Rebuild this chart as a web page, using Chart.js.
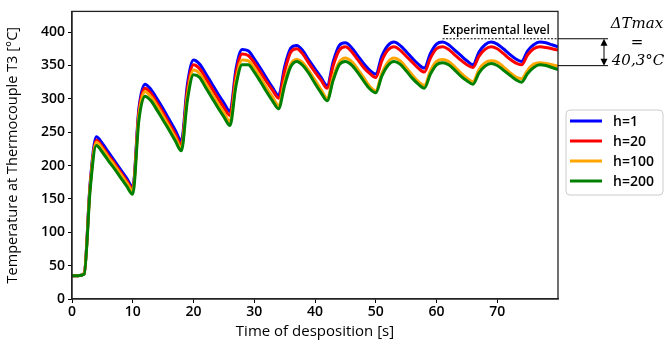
<!DOCTYPE html>
<html lang="en">
<head>
  <meta charset="UTF-8" />
  <title>Temperature at Thermocouple T3</title>
  <script src="https://cdn.jsdelivr.net/npm/chart.js"></script>
  <style>
    body { margin: 0; background: #fff; }
    .wrap { position: relative; width: 664px; height: 344px; }
  </style>
</head>
<body>
  <div class="wrap"><canvas id="tempChart" width="664" height="344"></canvas></div>
  <script>
    // time of deposition [s]
    const times = [0, 1, 2, 3, 4, 5, 6, 7, 8, 9, 10,
      11, 12, 13, 14, 15, 16, 17, 18, 19, 20,
      21, 22, 23, 24, 25, 26, 27, 28, 29, 30,
      31, 32, 33, 34, 35, 36, 37, 38, 39, 40,
      41, 42, 43, 44, 45, 46, 47, 48, 49, 50,
      51, 52, 53, 54, 55, 56, 57, 58, 59, 60,
      61, 62, 63, 64, 65, 66, 67, 68, 69, 70,
      71, 72, 73, 74, 75, 76, 77, 78, 79, 80];

    // temperature at T3 [°C] for each h
    const h1 = [35, 35, 38, 175, 243, 233, 220, 207, 194, 181, 168,
      285, 322, 314, 300, 285, 269, 253, 237, 322, 358,
      352, 338, 323, 308, 294, 281, 345, 374, 372, 360,
      346, 331, 317, 305, 348, 376, 380, 372, 358, 345,
      332, 320, 356, 380, 384, 377, 365, 353, 343, 337,
      364, 380, 385, 380, 371, 361, 352, 346, 368, 382,
      385, 381, 373, 365, 357, 351, 370, 381, 385, 382,
      375, 367, 360, 356, 372, 381, 385, 384, 381, 378];
    const h20 = [35, 35, 38, 172, 238, 228, 215, 203, 190, 177, 165,
      280, 316, 308, 294, 279, 263, 247, 231, 314, 351,
      345, 331, 316, 301, 287, 275, 338, 367, 365, 354,
      340, 326, 313, 301, 341, 370, 375, 367, 353, 340,
      328, 316, 350, 373, 378, 371, 359, 347, 338, 332,
      357, 373, 378, 373, 364, 355, 346, 340, 361, 375,
      378, 374, 366, 358, 351, 347, 364, 374, 378, 375,
      368, 360, 354, 351, 366, 375, 378, 377, 375, 373];
    const h100 = [35, 35, 38, 170, 235, 225, 212, 200, 187, 174, 162,
      274, 311, 303, 289, 274, 258, 242, 226, 305, 343,
      338, 323, 308, 293, 279, 266, 327, 358, 357, 346,
      332, 317, 303, 290, 326, 352, 359, 354, 342, 328,
      314, 301, 333, 355, 361, 356, 345, 332, 319, 312,
      338, 355, 361, 357, 347, 336, 326, 320, 342, 356,
      359, 356, 348, 339, 331, 326, 344, 354, 357, 355,
      348, 340, 333, 330, 343, 352, 354, 353, 351, 349];
    const h200 = [35, 35, 37, 165, 230, 220, 207, 195, 182, 169, 157,
      267, 304, 297, 283, 268, 253, 237, 222, 298, 336,
      332, 317, 302, 287, 273, 260, 320, 351, 351, 340,
      326, 311, 297, 285, 320, 348, 356, 350, 338, 323,
      309, 297, 328, 351, 356, 351, 340, 327, 315, 309,
      334, 350, 356, 352, 342, 331, 322, 316, 337, 351,
      354, 351, 343, 334, 327, 322, 339, 349, 353, 350,
      343, 336, 329, 325, 338, 347, 351, 350, 347, 344];

    const seriesLabels = ['h=1', 'h=20', 'h=100', 'h=200'];
    const seriesColors = ['#0000ff', '#ff0000', '#ffa500', '#008000'];
    const xTicks = [0, 10, 20, 30, 40, 50, 60, 70];
    const yTicks = [0, 50, 100, 150, 200, 250, 300, 350, 400];

    const expLevel = 390;   // experimental level [°C]
    const deltaT = 40.3;    // ΔTmax [°C]
    const expStart = 61;    // dotted line starts here [s]

    const allSeries = [h1, h20, h100, h200];
    const datasets = allSeries.map((vals, i) => ({
      label: seriesLabels[i],
      data: vals.map((v, j) => ({ x: times[j], y: v })),
      borderColor: seriesColors[i],
      backgroundColor: seriesColors[i],
      borderWidth: 3,
      pointRadius: 0,
      cubicInterpolationMode: 'monotone',
      order: allSeries.length - i
    }));

    function arrowHead(ctx, x, y, dir) {
      ctx.beginPath();
      ctx.moveTo(x, y);
      ctx.lineTo(x - 3.5, y - dir * 7);
      ctx.lineTo(x + 3.5, y - dir * 7);
      ctx.closePath();
      ctx.fill();
    }

    const extras = {
      id: 'extras',
      afterDraw(chart) {
        const { ctx, chartArea: a, scales } = chart;
        ctx.save();
        // axes frame
        ctx.strokeStyle = '#222';
        ctx.lineWidth = 1.3;
        ctx.strokeRect(a.left, a.top, a.right - a.left, a.bottom - a.top);

        // experimental level + delta T
        const y1 = scales.y.getPixelForValue(expLevel);
        const y2 = scales.y.getPixelForValue(expLevel - deltaT);
        const xs = scales.x.getPixelForValue(expStart);
        ctx.lineWidth = 1;
        ctx.strokeStyle = '#000';
        ctx.setLineDash([2, 1.5]);
        ctx.beginPath();
        ctx.moveTo(xs, y1); ctx.lineTo(a.right, y1);
        ctx.stroke();
        ctx.setLineDash([]);
        ctx.beginPath();
        ctx.moveTo(a.right, y1); ctx.lineTo(a.right + 50, y1);
        ctx.moveTo(a.right, y2); ctx.lineTo(a.right + 50, y2);
        const ax = a.right + 46;
        ctx.moveTo(ax, y1 + 6); ctx.lineTo(ax, y2 - 6);
        ctx.stroke();
        ctx.fillStyle = '#000';
        arrowHead(ctx, ax, y1, -1);
        arrowHead(ctx, ax, y2, 1);

        ctx.font = '600 12px "Open Sans"';
        ctx.textAlign = 'left';
        ctx.textBaseline = 'alphabetic';
        ctx.fillText('Experimental level', xs, y1 - 5);

        ctx.font = 'italic 15px "DejaVu Serif"';
        ctx.textAlign = 'center';
        ctx.textBaseline = 'middle';
        ctx.fillText('\u0394Tmax', 637, 24);
        ctx.font = '15px "DejaVu Serif"';
        ctx.fillText('=', 637, 43);
        ctx.font = 'italic 15px "DejaVu Serif"';
        ctx.fillText('40,3\u00b0C', 638, 61);

        // legend
        const lx = 566, ly = 110;
        ctx.strokeStyle = '#cccccc';
        ctx.lineWidth = 1;
        ctx.fillStyle = 'rgba(255,255,255,0.9)';
        ctx.beginPath();
        ctx.roundRect(lx, ly, 97, 85, 4);
        ctx.fill();
        ctx.stroke();
        ctx.font = '600 14px "Open Sans"';
        ctx.textAlign = 'left';
        ctx.textBaseline = 'middle';
        seriesLabels.forEach((lab, i) => {
          const yy = ly + 11 + i * 20;
          ctx.strokeStyle = seriesColors[i];
          ctx.lineWidth = 3;
          ctx.beginPath();
          ctx.moveTo(lx + 4, yy); ctx.lineTo(lx + 36, yy);
          ctx.stroke();
          ctx.fillStyle = '#000';
          ctx.fillText(lab, lx + 47, yy + 1);
        });
        ctx.restore();
      }
    };

    new Chart(document.getElementById('tempChart'), {
      type: 'line',
      data: { datasets: datasets },
      options: {
        responsive: false,
        animation: false,
        layout: { padding: { top: 6, right: 106, left: 0, bottom: 0 } },
        plugins: {
          legend: { display: false },
          tooltip: { enabled: false }
        },
        scales: {
          x: {
            type: 'linear',
            min: 0,
            max: 80,
            afterBuildTicks: (s) => { s.ticks = xTicks.map(v => ({ value: v })); },
            afterFit: (s) => { s.height = 45; },
            grid: { drawOnChartArea: false, color: '#000', tickLength: 4 },
            border: { color: '#222', width: 1.3 },
            ticks: { color: '#000', font: { family: 'Open Sans', size: 14, weight: '600' }, padding: 1, maxRotation: 0 },
            title: {
              display: true, text: 'Time of desposition [s]', color: '#000',
              font: { family: 'Open Sans', size: 15, weight: '500' }, padding: { top: 0, bottom: 3 }
            }
          },
          y: {
            min: 0,
            max: 431,
            afterBuildTicks: (s) => { s.ticks = yTicks.map(v => ({ value: v })); },
            afterFit: (s) => { s.width = 72; },
            grid: { drawOnChartArea: false, color: '#000', tickLength: 4 },
            border: { color: '#222', width: 1.3 },
            ticks: { color: '#000', font: { family: 'Open Sans', size: 14, weight: '600' }, padding: 3 },
            title: {
              display: true, text: 'Temperature at Thermocouple T3 [\u00b0C]', color: '#000',
              font: { family: 'Open Sans', size: 14.5, weight: '500' }, padding: { top: 4, bottom: 0 }
            }
          }
        }
      },
      plugins: [extras]
    });
  </script>
</body>
</html>
